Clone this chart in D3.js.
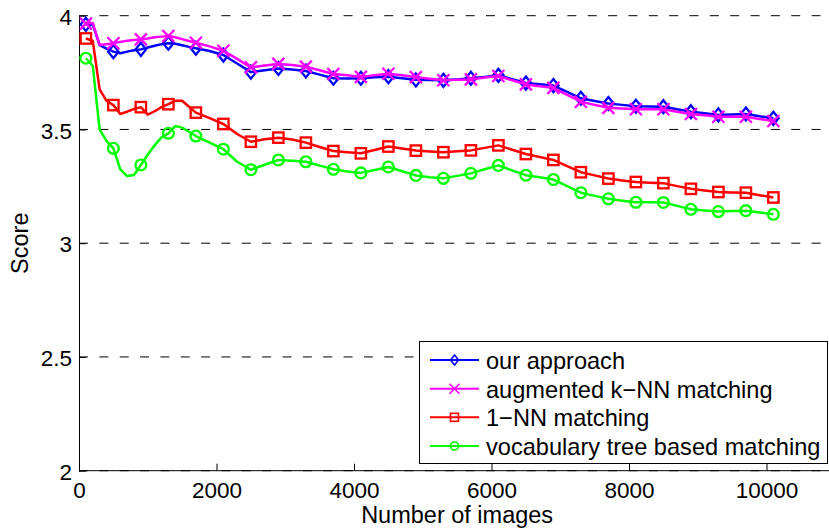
<!DOCTYPE html>
<html>
<head>
<meta charset="utf-8">
<script src="https://cdn.jsdelivr.net/npm/d3@7"></script>
<style>
  body { margin: 0; background: #fff; }
  svg { display: block; font-family: "Liberation Sans", Arial, Helvetica, sans-serif; }
</style>
</head>
<body>
<svg id="chart" width="829" height="530"></svg>
<script>
// Number of images in the database at each evaluation point
const imageCounts = [100, 200, 300, 400, 500, 600, 700, 800, 900, 1000, 1100, 1200, 1300, 1400, 1500, 1600, 1700,
  1900, 2100, 2300, 2500, 2700, 2900, 3100, 3300, 3500, 3700, 3900, 4100, 4300, 4500, 4700, 4900, 5100, 5300,
  5500, 5700, 5900, 6100, 6300, 6500, 6700, 6900, 7100, 7300, 7500, 7700, 7900, 8100, 8300, 8500, 8700, 8900,
  9100, 9300, 9500, 9700, 9900, 10100];

const ourApproach = [3.962, 3.962, 3.871, 3.855, 3.842, 3.835, 3.842, 3.848, 3.852, 3.860, 3.868, 3.875, 3.879,
  3.877, 3.870, 3.863, 3.857, 3.845, 3.827, 3.790, 3.752,
  3.760, 3.768, 3.764, 3.757, 3.741, 3.725, 3.724, 3.725, 3.729, 3.732, 3.725, 3.718, 3.717, 3.716, 3.720, 3.725,
  3.731, 3.738, 3.721, 3.704, 3.699, 3.693, 3.665, 3.637, 3.625, 3.614, 3.608, 3.602, 3.601, 3.600, 3.589, 3.578,
  3.571, 3.564, 3.566, 3.568, 3.558, 3.549];

const augmentedKnn = [3.965, 3.968, 3.871, 3.875, 3.879, 3.885, 3.890, 3.893, 3.896, 3.900, 3.905, 3.908, 3.911,
  3.905, 3.897, 3.889, 3.881, 3.865, 3.846, 3.810, 3.773,
  3.781, 3.788, 3.783, 3.776, 3.760, 3.744, 3.738, 3.731, 3.738, 3.745, 3.738, 3.730, 3.723, 3.716, 3.718, 3.720,
  3.728, 3.735, 3.716, 3.698, 3.690, 3.683, 3.652, 3.622, 3.608, 3.595, 3.592, 3.589, 3.589, 3.589, 3.578, 3.568,
  3.562, 3.556, 3.556, 3.556, 3.546, 3.537];

const oneNn = [3.900, 3.890, 3.676, 3.626, 3.607, 3.568, 3.578, 3.590, 3.598, 3.565, 3.580, 3.598, 3.611,
  3.626, 3.626, 3.600, 3.574, 3.550, 3.524, 3.480, 3.446,
  3.457, 3.464, 3.456, 3.442, 3.423, 3.405, 3.400, 3.395, 3.410, 3.425, 3.416, 3.407, 3.403, 3.400, 3.404, 3.408,
  3.419, 3.430, 3.411, 3.392, 3.379, 3.366, 3.339, 3.312, 3.298, 3.284, 3.276, 3.269, 3.266, 3.264, 3.251, 3.239,
  3.232, 3.225, 3.223, 3.222, 3.211, 3.201];

const vocabTree = [3.813, 3.780, 3.500, 3.450, 3.417, 3.325, 3.295, 3.300, 3.344, 3.390, 3.430, 3.465, 3.483,
  3.515, 3.508, 3.490, 3.471, 3.442, 3.413, 3.358, 3.323,
  3.345, 3.366, 3.362, 3.358, 3.341, 3.325, 3.315, 3.309, 3.322, 3.335, 3.316, 3.298, 3.290, 3.285, 3.296, 3.307,
  3.325, 3.342, 3.320, 3.299, 3.290, 3.280, 3.251, 3.222, 3.208, 3.195, 3.187, 3.180, 3.180, 3.179, 3.164, 3.149,
  3.144, 3.139, 3.141, 3.143, 3.135, 3.127];

const seriesNames = ["our approach", "augmented k\u2212NN matching", "1\u2212NN matching", "vocabulary tree based matching"];
const seriesColors = ["#0000ff", "#ff00ff", "#ff0000", "#00ff00"];
const seriesMarkers = ["diamond", "cross", "square", "circle"];

const xTicks = [0, 2000, 4000, 6000, 8000, 10000];
const yTicks = [2, 2.5, 3, 3.5, 4];
const yTickLabels = ["2", "2.5", "3", "3.5", "4"];

const xLabel = "Number of images";
const yLabel = "Score";

const svg = d3.select("#chart");

const x = d3.scaleLinear().domain([0, 11000]).range([79, 835.25]);
const y = d3.scaleLinear().domain([2, 4]).range([470.7, 15.7]);

// Dashed horizontal grid
svg.append("g").selectAll("line").data(yTicks).join("line")
  .attr("x1", x(0)).attr("x2", 829)
  .attr("y1", d => y(d)).attr("y2", d => y(d))
  .attr("stroke", "#000").attr("stroke-width", 1)
  .attr("stroke-dasharray", "9,11.35");

// Axes (left and bottom only), with ticks pointing inward
const xAxis = d3.axisBottom(x).tickValues(xTicks).tickSizeInner(-7).tickSizeOuter(0)
  .tickFormat(d3.format("d")).tickPadding(10);
const gx = svg.append("g").attr("transform", `translate(0,${y(2)})`).call(xAxis);
gx.select(".domain").attr("stroke", "#000").attr("stroke-width", 1).attr("d", `M${x(0)},0H829`);
gx.selectAll(".tick line").attr("stroke", "#000");
gx.selectAll(".tick text").attr("font-size", 22.5).attr("fill", "#000")
  .attr("font-family", "Liberation Sans, Arial, sans-serif").attr("dy", "0.72em").attr("y", 11.5);

const yAxis = d3.axisLeft(y).tickValues(yTicks).tickSizeInner(-7).tickSizeOuter(0)
  .tickFormat((d, i) => yTickLabels[i]).tickPadding(14);
const gy = svg.append("g").attr("transform", `translate(${x(0)},0)`).call(yAxis);
gy.select(".domain").attr("stroke", "#000").attr("stroke-width", 1);
gy.selectAll(".tick line").attr("stroke", "#000");
gy.selectAll(".tick text").attr("font-size", 22.5).attr("fill", "#000")
  .attr("font-family", "Liberation Sans, Arial, sans-serif").attr("x", -7).attr("dy", "0.38em");

// Axis titles
svg.append("text").attr("x", (x(0) + x(11000)) / 2).attr("y", 523)
  .attr("text-anchor", "middle").attr("font-size", 23.5).text(xLabel);
svg.append("text").attr("transform", `translate(28,${(y(2) + y(4)) / 2}) rotate(-90)`)
  .attr("text-anchor", "middle").attr("font-size", 23.5).text(yLabel);

// Marker drawing helper
function drawMarker(g, type, cx, cy, color, size, sw) {
  if (type === "diamond") {
    g.append("path").attr("d", `M${cx},${cy - size}L${cx + size * 0.8},${cy}L${cx},${cy + size}L${cx - size * 0.8},${cy}Z`)
      .attr("fill", "none").attr("stroke", color).attr("stroke-width", sw);
  } else if (type === "cross") {
    const s = size;
    g.append("path").attr("d", `M${cx - s},${cy - s}L${cx + s},${cy + s}M${cx - s},${cy + s}L${cx + s},${cy - s}`)
      .attr("fill", "none").attr("stroke", color).attr("stroke-width", sw);
  } else if (type === "square") {
    g.append("rect").attr("x", cx - size).attr("y", cy - size).attr("width", 2 * size).attr("height", 2 * size)
      .attr("fill", "none").attr("stroke", color).attr("stroke-width", sw);
  } else {
    g.append("circle").attr("cx", cx).attr("cy", cy).attr("r", size)
      .attr("fill", "none").attr("stroke", color).attr("stroke-width", sw);
  }
}

const seriesValues = [ourApproach, augmentedKnn, oneNn, vocabTree];
const markerSizes = [6.5, 6, 5.2, 5.4];
const line = d3.line().x(d => x(d[0])).y(d => y(d[1]));

seriesValues.forEach((vals, si) => {
  const pts = imageCounts.map((c, i) => [c, vals[i]]);
  const g = svg.append("g");
  g.append("path").attr("d", line(pts)).attr("fill", "none")
    .attr("stroke", seriesColors[si]).attr("stroke-width", 2.5).attr("stroke-linejoin", "round");
  pts.filter(p => (p[0] - 100) % 400 === 0).forEach(p => {
    drawMarker(g, seriesMarkers[si], x(p[0]), y(p[1]), seriesColors[si], markerSizes[si], 2.3);
  });
});

// Legend
const lg = svg.append("g");
lg.append("rect").attr("x", 419.5).attr("y", 341.5).attr("width", 408).attr("height", 122)
  .attr("fill", "#fff").attr("stroke", "#000").attr("stroke-width", 1);
const rowY = [360, 388.7, 417.3, 446];
const legendMarkerSizes = [5, 5, 4, 4];
seriesNames.forEach((name, i) => {
  lg.append("line").attr("x1", 430).attr("x2", 479).attr("y1", rowY[i]).attr("y2", rowY[i])
    .attr("stroke", seriesColors[i]).attr("stroke-width", 2);
  drawMarker(lg, seriesMarkers[i], 454.5, rowY[i], seriesColors[i], legendMarkerSizes[i], 1.6);
  lg.append("text").attr("x", 486).attr("y", rowY[i] + 9).attr("font-size", 23.6).attr("fill", "#000").text(name);
});
</script>
</body>
</html>
